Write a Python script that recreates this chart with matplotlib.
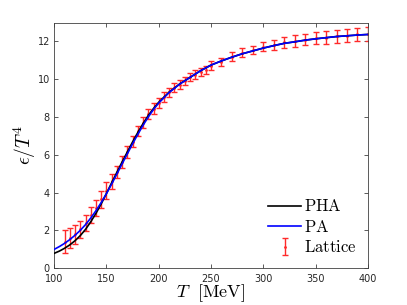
import matplotlib.pyplot as plt
import numpy as np

plt.rcParams['mathtext.fontset'] = 'cm'

# lattice data
T_lat = [110, 115, 120, 125, 130, 135, 140, 145, 150, 155, 160, 165, 170, 175,
         180, 185, 190, 195, 200, 205, 210, 215, 220, 225, 230, 235, 240, 245,
         250, 260, 270, 280, 290, 300, 310, 320, 330, 340, 350, 360, 370, 380,
         390, 400]
e_lat = [1.4, 1.58, 1.78, 2.05, 2.4, 2.82, 3.2, 3.65, 4.1, 4.6, 5.1, 5.6, 6.15, 6.7,
         7.25, 7.7, 8.15, 8.45, 8.76, 9.05, 9.3, 9.55, 9.72, 9.9, 10.1, 10.25, 10.4, 10.5,
         10.72, 10.9, 11.2, 11.4, 11.55, 11.72, 11.83, 11.95, 12.02, 12.1, 12.17, 12.2, 12.27, 12.3,
         12.38, 12.4]
err_lat = [0.6, 0.53, 0.48, 0.45, 0.42, 0.42, 0.42, 0.45, 0.45, 0.4, 0.33, 0.32, 0.32, 0.3,
           0.28, 0.28, 0.28, 0.27, 0.27, 0.25, 0.25, 0.24, 0.24, 0.22, 0.22, 0.22, 0.22, 0.22,
           0.22, 0.2, 0.23, 0.23, 0.23, 0.25, 0.27, 0.28, 0.3, 0.3, 0.32, 0.33, 0.33, 0.35,
           0.35, 0.37]

# model curves
T_curve = [100, 105, 110, 115, 120, 125, 130, 135, 140, 145, 150, 155, 160, 165, 170,
           175, 180, 185, 190, 195, 200, 210, 220, 230, 240, 250, 260, 270, 280, 290,
           300, 310, 320, 330, 340, 350, 360, 370, 380, 390, 400]
e_pha = [0.78, 0.9, 1.05, 1.23, 1.45, 1.72, 2.05, 2.45, 2.9, 3.4, 3.95, 4.52, 5.07, 5.62, 6.15,
         6.68, 7.18, 7.65, 8.08, 8.45, 8.78, 9.32, 9.75, 10.1, 10.45, 10.75, 10.97, 11.17, 11.35, 11.5,
         11.65, 11.78, 11.9, 11.98, 12.07, 12.14, 12.2, 12.26, 12.3, 12.34, 12.37]
e_pa = [0.99, 1.14, 1.31, 1.51, 1.74, 2.0, 2.3, 2.65, 3.04, 3.47, 3.94, 4.45, 4.98, 5.52, 6.05,
        6.58, 7.08, 7.56, 8.0, 8.4, 8.74, 9.3, 9.74, 10.1, 10.45, 10.75, 10.97, 11.17, 11.35, 11.5,
        11.65, 11.78, 11.9, 11.98, 12.07, 12.14, 12.2, 12.26, 12.3, 12.34, 12.37]

fig = plt.figure(figsize=(4.07, 3.05), dpi=100)
ax = fig.add_axes([0.133, 0.121, 0.771, 0.805])

ax.errorbar(T_lat, e_lat, yerr=err_lat, fmt='.', color='#ff2a2a', ms=2,
            elinewidth=1.0, capsize=2.5, capthick=1.0, label='Lattice', zorder=2)
ax.plot(T_curve, e_pha, color='black', lw=1.2, label='PHA', zorder=3)
ax.plot(T_curve, e_pa, color='blue', lw=1.2, label='PA', zorder=3)

ax.set_xlim(100, 400)
ax.set_ylim(0, 13)
ax.set_xticks(np.arange(100, 401, 50))
ax.set_yticks(np.arange(0, 13, 2))
ax.tick_params(direction='in', top=True, right=True, length=3, width=0.6,
               labelsize=7, colors='#404040', labelcolor='#262626')
ax.tick_params(axis='x', pad=4)
ax.tick_params(axis='y', pad=3)
for s in ax.spines.values():
    s.set_color('#404040')
    s.set_linewidth(0.6)

ax.set_xlabel(r'$T\ \ \mathrm{[MeV]}$', fontsize=13, labelpad=-1)
ax.set_ylabel(r'$\epsilon/T^4$', fontsize=14, labelpad=0)

handles, labels = ax.get_legend_handles_labels()
leg = ax.legend(handles, [r'$\mathrm{' + l + '}$' for l in labels],
                loc='lower right', frameon=False, handlelength=2.0,
                fontsize=12, borderaxespad=0.3,
                handletextpad=0.15, labelspacing=0.15)

fig.savefig('out.png', dpi=100)
